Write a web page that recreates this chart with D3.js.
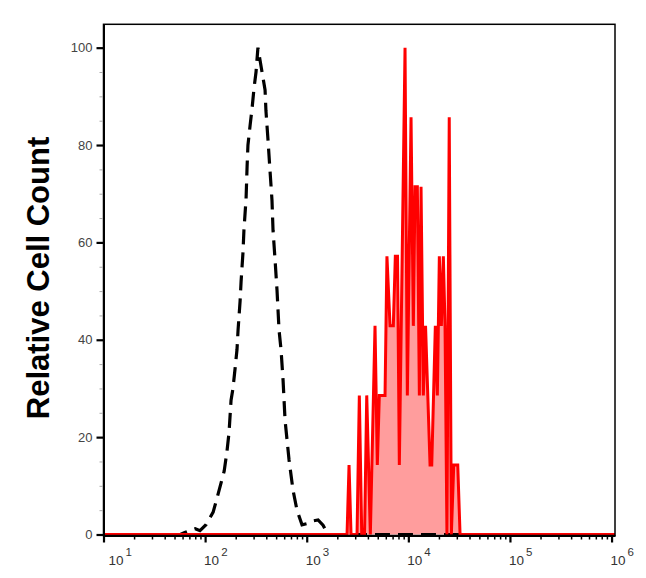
<!DOCTYPE html>
<html><head><meta charset="utf-8">
<script src="https://cdn.jsdelivr.net/npm/d3@7/dist/d3.min.js"></script>
<style>body{margin:0;background:#fff}</style>
</head><body><svg id="c" width="646" height="578"></svg>
<script>
// ---- data ----
const xDomain = [10, 1.081e6];
const yDomain = [0, 104.8];
const xMajorTicks = [10, 100, 1000, 10000, 100000, 1000000];
const xTickBase = "10";
const xTickExponents = ["1", "2", "3", "4", "5", "6"];
const yMajorTicks = [0, 20, 40, 60, 80, 100];
const yMinorTicks = [5, 10, 15, 25, 30, 35, 45, 50, 55, 65, 70, 75, 85, 90, 95];
const yTitle = "Relative Cell Count";

// isotype control (dashed black), relative count %
const isoIntensity = [10, 57, 63, 71, 80, 89, 102, 120, 137, 154, 164, 172, 180, 188, 197, 206, 211, 221, 226, 236, 241, 253, 259, 264, 277, 290, 303, 317, 331, 389, 397, 416, 435, 455, 466, 488, 510, 534, 559, 585, 612, 670, 733, 802, 899, 1031, 1154, 1293, 1447, 1622, 1081000];
const isoRelative  = [0, 0, 0.4, 0.8, 1.2, 0.8, 2, 4.6, 9, 13, 17, 21, 27.6, 30, 34, 38, 42, 48, 52, 58, 62.5, 69, 75.7, 80, 84, 87.6, 91.7, 95, 100, 91.3, 87, 81, 74.8, 68.7, 62.5, 56.4, 50.2, 42, 37.9, 31.7, 23.5, 15.3, 9.1, 5, 2, 2.3, 2.8, 3, 1.9, 0, 0];

// stained sample (red, filled), event counts per channel
const stainIntensity = [10, 2493, 2609, 2729, 3127, 3294, 3478, 3707, 3896, 4227, 4700, 4952, 5183, 5898, 6158, 6606, 7118, 7447, 7828, 8154, 9279, 9777, 10632, 11200, 11638, 12265, 12835, 13335, 14048, 14765, 16357, 16999, 18440, 19295, 20190, 21126, 22106, 22973, 23986, 25267, 26496, 27986, 30640, 32283, 1081000];
const stainCount     = [0, 0, 1, 0, 0, 2, 0, 0, 2, 0, 3, 1, 2, 2, 4, 3, 3, 4, 4, 1, 7, 2, 6, 3, 5, 5, 2, 5, 2, 3, 1, 1, 3, 2, 4, 3, 4, 3, 0, 6, 0, 1, 1, 0, 0];
const stainMaxCount = 7;

// ---- layout ----
const L = 103.5, R = 615, T = 24.3, B = 535.5, Y0 = 534.5;
const svg = d3.select("#c");
const x = d3.scaleLog().domain(xDomain).range([L, R]);
const y = d3.scaleLinear().domain(yDomain).range([Y0, T]);

const iso = isoIntensity.map((v, i) => ({x: v, y: isoRelative[i]}));
const stain = stainIntensity.map((v, i) => ({x: v, y: stainCount[i] / stainMaxCount * 100}));

const g = svg.append("g");
g.append("clipPath").attr("id", "clip").append("rect")
  .attr("x", L).attr("y", T).attr("width", R - L).attr("height", B - T + 2);
const plot = g.append("g").attr("clip-path", "url(#clip)");

plot.append("path").datum(stain)
  .attr("d", d3.area().x(d => x(d.x)).y0(y(0)).y1(d => y(d.y)))
  .attr("fill", "#ff9d9d");
plot.append("path").datum(iso)
  .attr("d", d3.line().x(d => x(d.x)).y(d => y(d.y)))
  .attr("fill", "none").attr("stroke", "#000").attr("stroke-width", 3.2)
  .attr("stroke-dasharray", "15,8");
plot.append("path").datum(stain)
  .attr("d", d3.line().x(d => x(d.x)).y(d => y(d.y)))
  .attr("fill", "none").attr("stroke", "#f00").attr("stroke-width", 3)
  .attr("stroke-linejoin", "miter").attr("stroke-miterlimit", 10);

// frame
svg.append("rect").attr("x", L).attr("y", T).attr("width", R - L).attr("height", B - T)
  .attr("fill", "none").attr("stroke", "#000").attr("stroke-width", 1.5);

// x axis
const xMinor = x.ticks().filter(t => !xMajorTicks.includes(t));
const xa = svg.append("g").attr("transform", `translate(0,${B})`);
xa.call(d3.axisBottom(x).tickValues(xMinor).tickSize(4).tickSizeOuter(0).tickFormat(""));
xa.call(g2 => g2.selectAll(".tick line").attr("stroke-width", 1.5));
const xb = svg.append("g").attr("transform", `translate(0,${B})`);
xb.call(d3.axisBottom(x).tickValues(xMajorTicks).tickSize(7).tickSizeOuter(0).tickFormat(""));
xb.selectAll(".tick line").attr("stroke-width", 2.2);
xb.select(".domain").attr("stroke-width", 2);
xa.select(".domain").remove();
xMajorTicks.forEach((t, i) => {
  const tx = svg.append("text")
    .attr("x", x(t) + (i === 0 ? 5 : -1)).attr("y", 565)
    .attr("font-family", "Liberation Sans, Arial, sans-serif")
    .attr("fill", "#333").attr("font-size", 13.5);
  tx.append("tspan").text(xTickBase);
  tx.append("tspan").attr("dx", 2).attr("dy", -9).attr("font-size", 11.5).text(xTickExponents[i]);
});

// y axis
const ya = svg.append("g").attr("transform", `translate(${L},0)`);
ya.call(d3.axisLeft(y).tickValues(yMinorTicks).tickSize(4).tickSizeOuter(0).tickFormat(""));
ya.selectAll(".tick line").attr("stroke", "#aaa").attr("stroke-width", 1);
ya.select(".domain").remove();
const yb = svg.append("g").attr("transform", `translate(${L},0)`);
yb.call(d3.axisLeft(y).tickValues(yMajorTicks).tickSize(7).tickSizeOuter(0).tickPadding(4));
yb.selectAll(".tick line").attr("stroke-width", 2.2);
yb.select(".domain").attr("stroke-width", 2);
yb.selectAll(".tick text")
  .attr("font-family", "Liberation Sans, Arial, sans-serif")
  .attr("font-size", 13).attr("fill", "#444");

// y title
svg.append("text")
  .attr("transform", `translate(49,278) rotate(-90)`)
  .attr("text-anchor", "middle")
  .attr("font-family", "Liberation Sans, Arial, sans-serif")
  .attr("font-weight", "bold").attr("font-size", 31).attr("fill", "#000")
  .text(yTitle);
</script>
</body></html>
